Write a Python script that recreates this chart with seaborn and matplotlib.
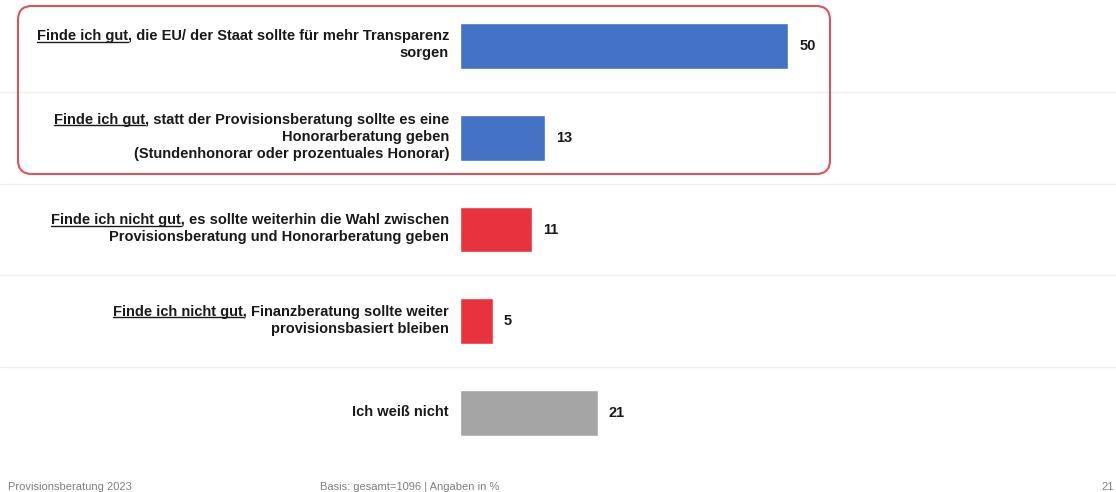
import matplotlib
matplotlib.use("Agg")
import matplotlib.pyplot as plt
import matplotlib.transforms as mtransforms
from matplotlib.patches import FancyBboxPatch
from matplotlib.lines import Line2D
import pandas as pd
import seaborn as sns

# data (percent)
categories = ["gut_transparenz", "gut_honorar", "nichtgut_wahl", "nichtgut_provision", "weiss_nicht"]
values = [50, 13, 11, 5, 21]
bar_colors = ["#4472C4", "#4472C4", "#E8323E", "#E8323E", "#A5A5A5"]
label_prefix = ["Finde ich gut", "Finde ich gut", "Finde ich nicht gut", "Finde ich nicht gut", ""]
label_lines = [
    [", die EU/ der Staat sollte für mehr Transparenz", "sorgen"],
    [", statt der Provisionsberatung sollte es eine", "Honorarberatung geben",
     "(Stundenhonorar oder prozentuales Honorar)"],
    [", es sollte weiterhin die Wahl zwischen", "Provisionsberatung und Honorarberatung geben"],
    [", Finanzberatung sollte weiter", "provisionsbasiert bleiben"],
    ["Ich weiß nicht"],
]
footer_left = "Provisionsberatung 2023"
footer_mid = "Basis: gesamt=1096 | Angaben in %"
page_no = "21"

sns.set_theme(style="white")
plt.rcParams['font.family'] = ['Liberation Sans', 'DejaVu Sans']

W, H = 1116, 492
fig = plt.figure(figsize=(W / 100, H / 100), dpi=100)
ax = fig.add_axes([460 / W, 33 / H, 656 / W, 459 / H])

df = pd.DataFrame({"category": categories, "value": values})
sns.barplot(data=df, x="value", y="category", hue="category", palette=bar_colors,
            legend=False, width=0.5, saturation=1, orient="h", ax=ax)

for cont in ax.containers:
    ax.bar_label(cont, fmt="%g", padding=8, fontsize=10.5, fontweight="bold", color="#1a1a1a")

ax.set_xlim(0, 100)
ax.set_ylim(4.5, -0.5)
ax.set_xlabel("")
ax.set_ylabel("")
ax.set_xticks([])
ax.set_yticks([])
for s in ax.spines.values():
    s.set_visible(False)
ax.patch.set_alpha(0)

# row separators across the whole width
sep_tr = mtransforms.blended_transform_factory(fig.transFigure, ax.transData)
for y in [0.5, 1.5, 2.5, 3.5]:
    fig.add_artist(Line2D([0, 1], [y, y], transform=sep_tr, color="#F0F0F0", lw=1, zorder=0))

# category labels, one text per line, with underlined prefix
renderer = fig.canvas.get_renderer()
lab_font = dict(fontsize=10.5, fontweight="bold", color="#1a1a1a")
x_right = 449 / W
line_h = 17
for i, lines in enumerate(label_lines):
    n = len(lines)
    for j, line in enumerate(lines):
        txt = label_prefix[i] + line if j == 0 else line
        dy = ((n - 1) / 2 - j) * line_h + 1
        tr = mtransforms.offset_copy(sep_tr, fig=fig, x=0, y=dy, units="dots")
        t = fig.text(x_right, i, txt, transform=tr, ha="right", va="center", **lab_font)
        if j == 0 and label_prefix[i]:
            bb = t.get_window_extent(renderer)
            tmp = fig.text(0, 0, label_prefix[i], **lab_font)
            pw = tmp.get_window_extent(renderer).width
            tmp.remove()
            yl = bb.y0 + 1.5
            fig.add_artist(Line2D([bb.x0, bb.x0 + pw], [yl, yl],
                                  transform=mtransforms.IdentityTransform(),
                                  color="#1a1a1a", lw=1))

# red rounded frame around the first two rows
box = FancyBboxPatch((18, H - 174), 812, 168,
                     boxstyle="round,pad=0,rounding_size=14",
                     transform=mtransforms.IdentityTransform(),
                     fill=False, edgecolor="#D9535F", lw=1.5)
fig.add_artist(box)

# footer
foot = dict(fontsize=8, color="#808080", va="center")
fig.text(8 / W, 5 / H, footer_left, **foot)
fig.text(320 / W, 5 / H, footer_mid, **foot)
fig.text(1114 / W, 5 / H, page_no, ha="right", **foot)

fig.savefig("out.png", dpi=100)
